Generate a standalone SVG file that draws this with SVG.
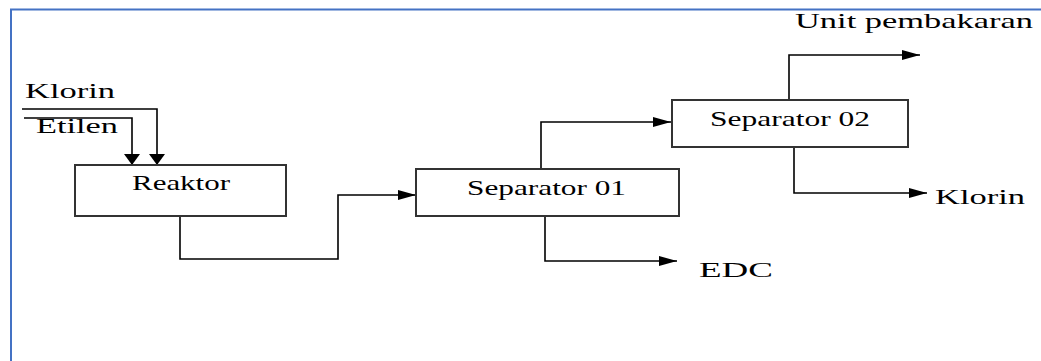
<svg xmlns="http://www.w3.org/2000/svg" width="1041" height="361" viewBox="0 0 1041 361">
<style>
.box{fill:#fff;stroke:#333;stroke-width:2}
.ln{fill:none;stroke:#000;stroke-width:1.6}
.t{font-family:"Liberation Serif","DejaVu Serif","Times New Roman",serif;font-size:22px;fill:#000}
</style>
<defs>
<marker id="ah" viewBox="0 0 18 10" markerWidth="18" markerHeight="10" refX="18" refY="5" orient="auto" markerUnits="userSpaceOnUse"><path d="M0,0 L18,5 L0,10 z" fill="#000"/></marker>
<marker id="av" viewBox="0 0 11 16" markerWidth="11" markerHeight="16" refX="11" refY="8" orient="auto" markerUnits="userSpaceOnUse"><path d="M0,0 L11,8 L0,16 z" fill="#000"/></marker>
</defs>
<rect x="0" y="0" width="1041" height="361" fill="#fff"/>
<path d="M11,361 L11,9.5 L1041,9.5" fill="none" stroke="#4472C4" stroke-width="2"/>
<g id="connectors">
<path class="ln" d="M22,109 L157,109 L157,165" marker-end="url(#av)"/>
<path class="ln" d="M24,118 L132,118 L132,165" marker-end="url(#av)"/>
<path class="ln" d="M180,216 L180,259 L338,259 L338,195 L416,195" marker-end="url(#ah)"/>
<path class="ln" d="M545,216 L545,261 L677,261" marker-end="url(#ah)"/>
<path class="ln" d="M541,169 L541,122 L671,122" marker-end="url(#ah)"/>
<path class="ln" d="M789,100 L789,55 L920,55" marker-end="url(#ah)"/>
<path class="ln" d="M794,147 L794,193 L927,193" marker-end="url(#ah)"/>
</g>
<g id="label-klorin-in"><text class="t" x="25" y="98" textLength="90" lengthAdjust="spacingAndGlyphs">Klorin</text></g>
<g id="label-etilen"><text class="t" x="36" y="133" textLength="82" lengthAdjust="spacingAndGlyphs">Etilen</text></g>
<g id="reaktor">
<rect class="box" x="75" y="165" width="211" height="51"/>
<text class="t" x="132" y="190" textLength="98" lengthAdjust="spacingAndGlyphs">Reaktor</text>
</g>
<g id="separator01">
<rect class="box" x="416" y="169" width="263" height="47"/>
<text class="t" x="467" y="195" textLength="159" lengthAdjust="spacingAndGlyphs">Separator 01</text>
</g>
<g id="separator02">
<rect class="box" x="672" y="100" width="236" height="47"/>
<text class="t" x="710" y="126" textLength="160" lengthAdjust="spacingAndGlyphs">Separator 02</text>
</g>
<g id="label-edc"><text class="t" x="699" y="277" textLength="74" lengthAdjust="spacingAndGlyphs">EDC</text></g>
<g id="label-unit"><text class="t" x="795" y="28" textLength="238" lengthAdjust="spacingAndGlyphs">Unit pembakaran</text></g>
<g id="label-klorin-out"><text class="t" x="935" y="204" textLength="90" lengthAdjust="spacingAndGlyphs">Klorin</text></g>
</svg>
